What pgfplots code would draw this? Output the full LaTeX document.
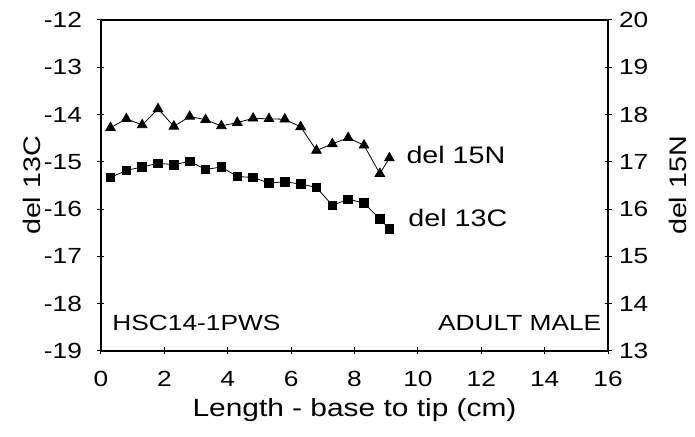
\documentclass[border=0pt]{standalone}
\usepackage{fontspec}
\setmainfont{Liberation Sans}[FakeStretch=1.2]
\usepackage{pgfplots}
\pgfplotsset{compat=1.18}
\begin{document}
\begin{tikzpicture}[x=1bp,y=1bp,font=\fontsize{22}{26}\selectfont]
\path[use as bounding box] (-101,-86) rectangle (594,351);
\begin{axis}[
  at={(0,0)}, anchor=south west,
  scale only axis, width=507bp, height=331bp,
  xmin=0, xmax=16, ymin=-19, ymax=-12,
  axis line style={line width=2.8bp},
  tick style={line width=1bp, black},
  tick align=center, major tick length=7bp,
  xtick={0,2,...,16}, xtick pos=bottom,
  ytick={-19,-18,...,-12}, ytick pos=left,
  yticklabels={-19,-18,-17,-16,-15,-14,-13,-12},
  /pgf/number format/assume math mode=true,
  xticklabel style={yshift=-13bp},
  yticklabel style={xshift=-12bp},
  xlabel={Length - base to tip (cm)},
  xlabel style={at={(axis description cs:0.5,-0.178)}, anchor=center, font=\fontsize{25}{30}\selectfont},
  ylabel={del 13C},
  ylabel style={at={(axis description cs:-0.136,0.5)}, anchor=center, font=\fontsize{24}{28}\selectfont},
  clip=false,
]
% del 15N (plotted on right axis scale: 15N = 13C-axis value + 32)
\addplot[black, line width=0.8bp, mark=triangle*, mark size=5.5bp, mark options={solid}] coordinates {
(0.3,-14.28) (0.8,-14.09) (1.3,-14.22) (1.8,-13.88) (2.3,-14.25) (2.8,-14.04)
(3.3,-14.11) (3.8,-14.24) (4.3,-14.17) (4.8,-14.08) (5.3,-14.09) (5.8,-14.10)
(6.3,-14.26) (6.8,-14.76) (7.3,-14.62) (7.8,-14.49) (8.3,-14.65) (8.8,-15.25) (9.1,-14.92)
};
% del 13C
\addplot[black, line width=0.8bp, mark=square*, mark size=4.3bp] coordinates {
(0.3,-15.33) (0.8,-15.18) (1.3,-15.11) (1.8,-15.03) (2.3,-15.06) (2.8,-14.99)
(3.3,-15.16) (3.8,-15.11) (4.3,-15.31) (4.8,-15.33) (5.3,-15.45) (5.8,-15.42)
(6.3,-15.47) (6.8,-15.54) (7.3,-15.92) (7.8,-15.79) (8.3,-15.87) (8.8,-16.21) (9.1,-16.42)
};
\node[anchor=west, font=\fontsize{24}{28}\selectfont] at (axis cs:9.53,-14.85) {del 15N};
\node[anchor=west, font=\fontsize{24}{28}\selectfont] at (axis cs:9.59,-16.19) {del 13C};
\node[anchor=west] at (axis cs:0.25,-18.41) {HSC14-1PWS};
\node[anchor=east] at (axis cs:15.9,-18.41) {ADULT MALE};
\end{axis}
\begin{axis}[
  at={(0,0)}, anchor=south west,
  scale only axis, width=507bp, height=331bp,
  xmin=0, xmax=16, ymin=13, ymax=20,
  axis x line=none, axis y line*=right,
  axis line style={line width=2.8bp},
  tick style={line width=1bp, black},
  tick align=center, major tick length=7bp,
  ytick={13,14,...,20},
  /pgf/number format/assume math mode=true,
  yticklabel style={xshift=4bp},
  ylabel={del 15N},
  ylabel style={at={(axis description cs:1.138,0.5)}, anchor=center, font=\fontsize{24}{28}\selectfont},
]
\end{axis}
\end{tikzpicture}
\end{document}
